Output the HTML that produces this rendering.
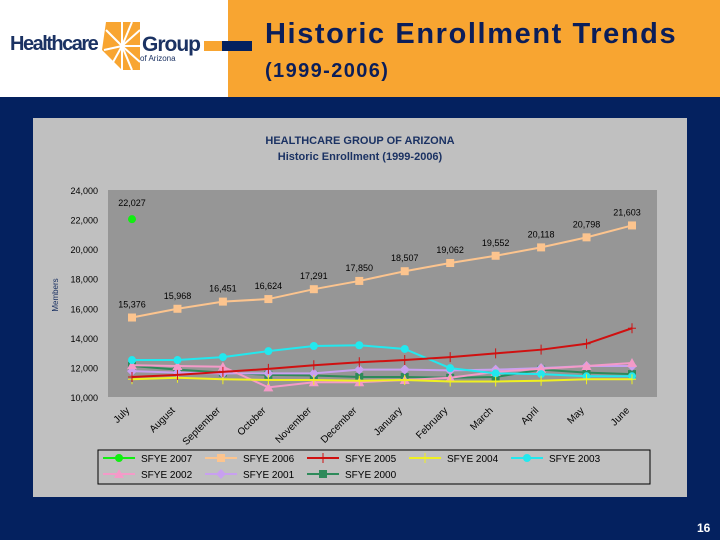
<!DOCTYPE html>
<html><head><meta charset="utf-8"><style>
body{margin:0;width:720px;height:540px;background:#04215f;position:relative;overflow:hidden;font-family:"Liberation Sans",sans-serif}
div{position:absolute}
</style></head><body>
<div style="left:0;top:0;width:228px;height:97px;background:#fff"></div>
<div style="left:228px;top:0;width:492px;height:97px;background:#f8a531"></div>
<div style="left:10px;top:33px;font-size:20px;font-weight:bold;color:#1b3263;letter-spacing:-1.5px">Healthcare</div>
<svg style="position:absolute;left:100px;top:20px" width="44" height="52" viewBox="0 0 44 52">
<polygon points="6,2 40,2 40,50 22,50 2,30" fill="#f8a531"/>
<g stroke="#fff" stroke-width="2"><line x1="22" y1="26" x2="22" y2="2"/><line x1="22" y1="26" x2="40" y2="10"/><line x1="22" y1="26" x2="40" y2="26"/><line x1="22" y1="26" x2="40" y2="42"/><line x1="22" y1="26" x2="22" y2="50"/><line x1="22" y1="26" x2="4" y2="30"/><line x1="22" y1="26" x2="6" y2="10"/><line x1="22" y1="26" x2="12" y2="44"/><line x1="22" y1="26" x2="32" y2="2"/><line x1="22" y1="26" x2="32" y2="50"/></g></svg>
<div style="left:142px;top:33px;font-size:21px;font-weight:bold;color:#1b3263;letter-spacing:-1px">Group</div>
<div style="left:140px;top:54px;font-size:8px;color:#1b3263">of Arizona</div>
<div style="left:204px;top:41px;width:18px;height:10px;background:#f8a531"></div>
<div style="left:222px;top:41px;width:30px;height:10px;background:#04215f"></div>
<div style="left:265px;top:18px;font-size:29px;font-weight:bold;color:#0b1e5a;letter-spacing:1.6px">Historic Enrollment Trends</div>
<div style="left:265px;top:60px;font-size:20px;font-weight:bold;color:#0b1e5a;letter-spacing:1.4px">(1999-2006)</div>
<div style="left:697px;top:521px;font-size:12px;font-weight:bold;color:#fff">16</div>
<svg id="c" style="position:absolute;left:0;top:0" width="720" height="540"></svg>
<script>
const months=["July","August","September","October","November","December","January","February","March","April","May","June"];
const yTicks=[10000,12000,14000,16000,18000,20000,22000,24000];
const s2007=[22027,null,null,null,null,null,null,null,null,null,null,null];
const s2006=[15376,15968,16451,16624,17291,17850,18507,19062,19552,20118,20798,21603];
const s2005=[11350,11500,11700,11900,12150,12350,12500,12700,12950,13200,13600,14650];
const s2004=[11200,11300,11200,11150,11150,11100,11150,11050,11050,11100,11200,11200];
const s2003=[12500,12500,12700,13100,13450,13500,13250,11950,11600,11550,11400,11400];
const s2002=[12150,12100,12050,10650,11000,11000,11150,11300,11700,11900,12100,12300];
const s2001=[11750,11650,11600,11600,11600,11850,11850,11800,11850,11950,12100,12100];
const s2000=[12100,11850,11650,11500,11450,11350,11350,11300,11350,11850,11650,11550];
const series=[
{n:"SFYE 2007",d:s2007,c:"#11ee11",m:"circle",lab:true},
{n:"SFYE 2006",d:s2006,c:"#fcc48e",m:"square",lab:true},
{n:"SFYE 2005",d:s2005,c:"#d01010",m:"plus"},
{n:"SFYE 2004",d:s2004,c:"#f0f020",m:"plus"},
{n:"SFYE 2003",d:s2003,c:"#22e8ee",m:"circle"},
{n:"SFYE 2002",d:s2002,c:"#f49ac8",m:"tri"},
{n:"SFYE 2001",d:s2001,c:"#c8a0f0",m:"diamond"},
{n:"SFYE 2000",d:s2000,c:"#2e8a5a",m:"square"}];
const svg=document.getElementById('c'),NS="http://www.w3.org/2000/svg";
function el(t,a,p){const e=document.createElementNS(NS,t);for(const k in a)e.setAttribute(k,a[k]);(p||svg).appendChild(e);return e;}
const L=108,R=657,T=190,B=397;
const x=i=>132+i*(632-132)/11;
const y=v=>B-(v-10000)/(14000)*(B-T);
let e;
e=el('rect',{x:33,y:118,width:654,height:379,fill:'#c0c0c0'});

e=el('rect',{x:L,y:T,width:R-L,height:B-T,fill:'#969696'});

e=el('text',{x:360,y:144,'text-anchor':'middle','font-size':11,'font-weight':'bold',fill:'#1b3263'});e.textContent="HEALTHCARE GROUP OF ARIZONA";

e=el('text',{x:360,y:160,'text-anchor':'middle','font-size':11,'font-weight':'bold',fill:'#1b3263'});e.textContent="Historic Enrollment (1999-2006)";

e=el('text',{x:58,y:295,'text-anchor':'middle','font-size':8,fill:'#1b3263',transform:'rotate(-90 58 295)'});e.textContent="Members";

yTicks.forEach(v=>{e=el('text',{x:98,y:y(v)+4,'text-anchor':'end','font-size':9,fill:'#000'});e.textContent=v.toLocaleString('en-US');
});
months.forEach((m,i)=>{const tx=x(i)-2,ty=411;
e=el('text',{x:tx,y:ty,'text-anchor':'end','font-size':10,fill:'#000',transform:`rotate(-45 ${tx} ${ty})`});e.textContent=m;
});
function marker(m,cx,cy,c){
 if(m==='circle')return el('circle',{cx,cy,r:4,fill:c});
 if(m==='square')return el('rect',{x:cx-4,y:cy-4,width:8,height:8,fill:c});
 if(m==='tri')return el('polygon',{points:`${cx},${cy-5} ${cx+5},${cy+4} ${cx-5},${cy+4}`,fill:c});
 if(m==='diamond')return el('polygon',{points:`${cx},${cy-5} ${cx+5},${cy} ${cx},${cy+5} ${cx-5},${cy}`,fill:c});
 return el('path',{d:`M${cx-4} ${cy}H${cx+4}M${cx} ${cy-5}V${cy+5}`,stroke:c,'stroke-width':1});
}
series.slice().reverse().forEach(s=>{
 const pts=[];s.d.forEach((v,i)=>{if(v!==null)pts.push(x(i)+','+y(v));});
 if(pts.length>1){e=el('polyline',{points:pts.join(' '),fill:'none',stroke:s.c,'stroke-width':2});
 }
 s.d.forEach((v,i)=>{if(v===null)return;e=marker(s.m,x(i),y(v),s.c);
 
 if(s.lab){const t=el('text',{x:x(i)+(i===11?-5:0),y:y(v)-(i===0&&s.n==="SFYE 2007"?13:10),'text-anchor':'middle','font-size':9,fill:'#000'});t.textContent=v.toLocaleString('en-US');
 }});
});
e=el('rect',{x:98,y:450,width:552,height:34,fill:'none',stroke:'#000','stroke-width':1});

series.forEach((s,i)=>{const lx=113+(i%5)*102,ly=458+Math.floor(i/5)*16;
 const g=el('g',{});
 el('line',{x1:lx-10,y1:ly,x2:lx+22,y2:ly,stroke:s.c,'stroke-width':2},g);
 const mk=marker(s.m,lx+6,ly,s.c);g.appendChild(mk);
 const t=el('text',{x:lx+28,y:ly+4,'font-size':10,fill:'#000'},g);t.textContent=s.n;});
</script>
</body></html>
